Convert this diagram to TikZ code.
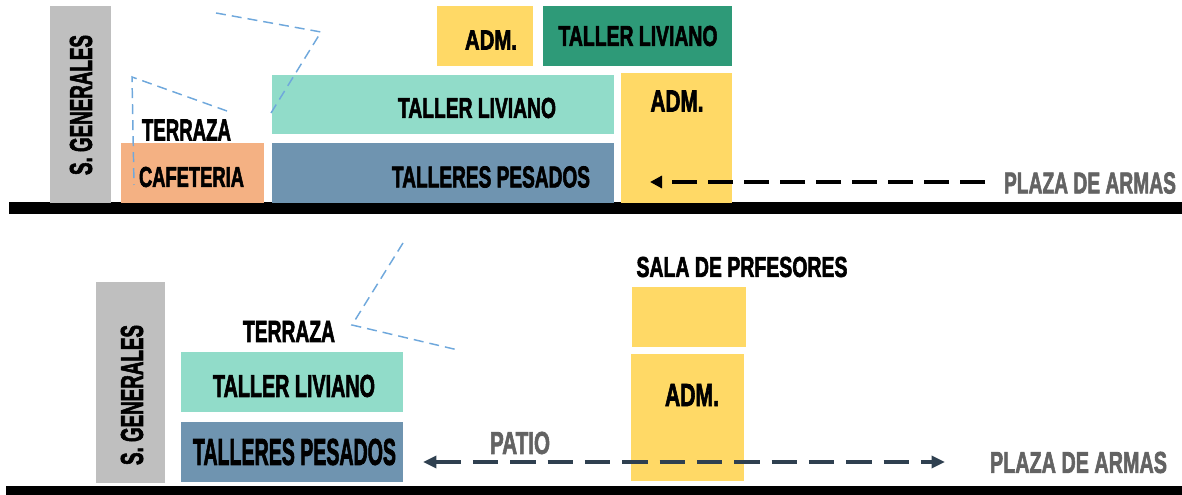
\documentclass[tikz,border=0pt]{standalone}
\usepackage{fontspec}
\setmainfont{Liberation Sans}[FakeBold=2.6]
\usetikzlibrary{arrows.meta}
\definecolor{grisSG}{HTML}{BFBFBF}
\definecolor{cafe}{HTML}{F4B183}
\definecolor{menta}{HTML}{91DCC9}
\definecolor{azulP}{HTML}{6F94B0}
\definecolor{amarillo}{HTML}{FFD966}
\definecolor{verdeO}{HTML}{2E9A78}
\definecolor{celeste}{HTML}{6FA8DC}
\definecolor{grisT}{HTML}{636363}
\definecolor{navy}{HTML}{2F4050}
\newlength{\pxu}\setlength{\pxu}{0.75pt}
\newcommand{\fitt}[3]{\resizebox{#1\pxu}{#2\pxu}{\bfseries #3}}
\tikzset{
  zone/.style={draw=none, inner sep=0pt},
  lbl/.style={inner sep=0pt, anchor=center},
  guide/.style={draw=celeste, line width=1.1pt, dash pattern=on 7.5pt off 4.5pt},
  flow/.style={line width=2.3pt, dash pattern=on 19pt off 8pt},
}
\begin{document}
\begin{tikzpicture}[x=0.75pt,y=-0.75pt]
\useasboundingbox (0,0) rectangle (1182,495);
% ---------- TOP PANEL ----------
\fill[black] (9,202) rectangle (1182,214);
\fill[grisSG] (50,6) rectangle (111,203);
\node[lbl, rotate=90] (sg1) at (81,105) {\fitt{140}{22}{S. GENERALES}};
\fill[cafe] (121,143) rectangle (264,203);
\node[lbl] (caf) at (191.5,177) {\fitt{105}{20}{CAFETERIA}};
\node[lbl] (ter1) at (186.5,130) {\fitt{89}{21}{TERRAZA}};
\fill[menta] (272,75) rectangle (614,134);
\node[lbl] (tl1) at (477,108) {\fitt{158}{20}{TALLER LIVIANO}};
\fill[azulP] (272,143) rectangle (614,203);
\node[lbl] (tp1) at (491,177) {\fitt{198}{21}{TALLERES PESADOS}};
\fill[amarillo] (437,6) rectangle (533,66);
\node[lbl] (adm1) at (491,40) {\fitt{52}{19}{ADM.}};
\fill[verdeO] (543,6) rectangle (732,66);
\node[lbl] (tl2) at (638,36) {\fitt{159}{20}{TALLER LIVIANO}};
\fill[amarillo] (621,73) rectangle (732,203);
\node[lbl] (adm2) at (677,101) {\fitt{53}{21}{ADM.}};
\node[lbl] (pz1) at (1090,183) {\textcolor{grisT}{\fitt{172}{21}{PLAZA DE ARMAS}}};
\coordinate (a1s) at (985,182);
\coordinate (a1e) at (650,182);
\draw[flow, black, -{Triangle[length=9pt,width=9pt]}] (a1s) -- (a1e);
\coordinate (g1a) at (216,13);
\coordinate (g1b) at (321,32);
\coordinate (g1c) at (271,113);
\draw[guide] (g1a) -- (g1b) -- (g1c);
\coordinate (g2a) at (227,111);
\coordinate (g2b) at (132,77);
\coordinate (g2c) at (134,185);
\draw[guide] (g2a) -- (g2b) -- (g2c);
% ---------- BOTTOM PANEL ----------
\fill[black] (6,486) rectangle (1182,495);
\fill[grisSG] (96,282) rectangle (165,483);
\node[lbl, rotate=90] (sg2) at (132,395) {\fitt{140}{22}{S. GENERALES}};
\node[lbl] (ter2) at (289,331.5) {\fitt{92}{21}{TERRAZA}};
\fill[menta] (181,352) rectangle (403,412);
\node[lbl] (tl3) at (294,386) {\fitt{162}{22}{TALLER LIVIANO}};
\fill[azulP] (181,422) rectangle (403,482);
\node[lbl] (tp2) at (294.5,452) {\fitt{203}{26}{TALLERES PESADOS}};
\node[lbl] (sala) at (742,267) {\fitt{211}{20}{SALA DE PRFESORES}};
\fill[amarillo] (632,287) rectangle (746,347);
\fill[amarillo] (631,354) rectangle (744,481);
\node[lbl] (adm3) at (692,395) {\fitt{54}{22}{ADM.}};
\node[lbl] (patio) at (520,443) {\textcolor{grisT}{\fitt{60}{22}{PATIO}}};
\node[lbl] (pz2) at (1078.5,462.5) {\textcolor{grisT}{\fitt{177}{21}{PLAZA DE ARMAS}}};
\coordinate (a2s) at (423,462);
\coordinate (a2e) at (945,462);
\draw[flow, navy, line width=2.4pt, dash pattern=on 19pt off 9pt, {Triangle[length=10pt,width=9pt]}-{Triangle[length=10pt,width=9pt]}] (a2s) -- (a2e);
\coordinate (g3a) at (403,243);
\coordinate (g3b) at (352,325);
\coordinate (g3c) at (458,350);
\draw[guide] (g3a) -- (g3b) -- (g3c);
\end{tikzpicture}
\end{document}
